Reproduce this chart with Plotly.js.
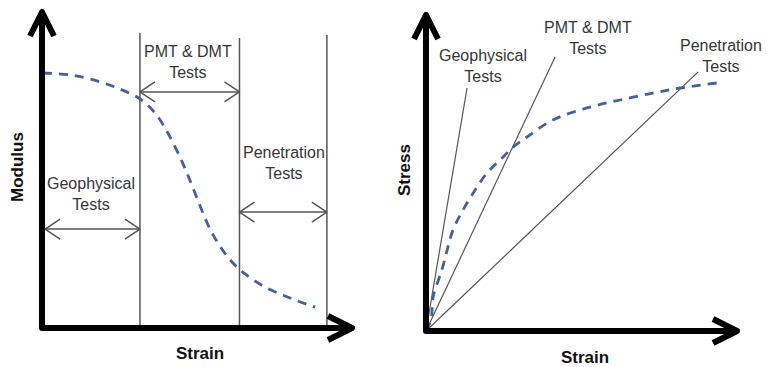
<!DOCTYPE html>
<html><head><meta charset="utf-8">
<script src="https://cdn.plot.ly/plotly-3.0.1.min.js"></script>
<style>
html,body{margin:0;padding:0;background:#fff}
#chart{width:766px;height:367px}
.js-line{stroke-linejoin:round}
</style>
</head><body><div id="chart"></div>
<script>
// ---- Left panel: Modulus vs Strain (relative units, 0-10) ----
const leftStrain  = [0.03,0.90,1.77,2.52,3.16,3.65,4.06,4.45,4.77,5.10,5.42,5.74,6.13,6.55,7.19,8.00,8.81];
const leftModulus = [8.07,8.01,7.82,7.56,7.25,6.80,6.17,5.41,4.68,3.86,3.13,2.59,2.09,1.71,1.30,0.95,0.66];
const zoneBounds  = [3.16, 6.37, 9.19];
const zoneTops    = [9.34, 9.18, 9.27];
const testLabels  = ['Geophysical<br>Tests', 'PMT & DMT<br>Tests', 'Penetration<br>Tests'];
const zoneLabelX  = [1.58, 4.71, 7.81];
const zoneLabelY  = [4.24, 8.42, 5.22];
const zoneArrowFrom = [0.10, 3.16, 6.37];
const zoneArrowTo   = [3.16, 6.37, 9.19];
const zoneArrowY    = [3.13, 7.47, 3.67];

// ---- Right panel: Stress vs Strain (relative units, 0-10) ----
const rightStrain = [0.00,0.16,0.23,0.51,0.68,0.87,1.19,1.58,1.96,2.38,2.80,3.25,4.08,5.18,6.24,7.30,8.17,9.36];
const rightStress = [0.00,0.35,1.08,1.93,2.56,3.20,3.83,4.46,5.00,5.41,5.82,6.14,6.68,7.06,7.31,7.53,7.69,7.85];
const secantEndX  = [1.32, 4.15, 8.75];
const secantEndY  = [7.69, 8.67, 8.20];
const secantLabelX = [1.83, 5.21, 9.49];
const secantLabelY = [8.39, 9.27, 8.70];

const axisLabels = {left: ['Strain', 'Modulus'], right: ['Strain', 'Stress']};
const axisMax = 10;

// ---- geometry / style ----
const W = 766, H = 367;
const XR = [-0.6, 10.4], YR = [-0.6, 10.3];
const panels = {
  left:  {ox: 42,  oy: 328, kx: 31.0, ky: 31.6, xa: 'x',  ya: 'y'},
  right: {ox: 426, oy: 331, kx: 31.1, ky: 31.6, xa: 'x2', ya: 'y2'}
};
function dom(p) {
  return {
    x: [(p.ox + XR[0]*p.kx)/W, (p.ox + XR[1]*p.kx)/W],
    y: [1 - (p.oy - YR[0]*p.ky)/H, 1 - (p.oy - YR[1]*p.ky)/H]
  };
}
const TXT = '#363636', THIN = '#555555', DASH = '#46609e';
const traces = [];
function line(p, xs, ys, color, width, dash) {
  traces.push({x: xs, y: ys, xaxis: p.xa, yaxis: p.ya, mode: 'lines', hoverinfo: 'skip',
    line: {color: color, width: width, dash: dash || 'solid'}});
}
// chevron arrowhead at tip (xt,yt) pointing in direction (dx,dy) (unit, pixel space, y up)
function chevron(p, xt, yt, dx, dy, back, spread) {
  const nx = -dy, ny = dx;
  const bx = xt - dx*back/p.kx, by = yt - dy*back/p.ky;
  return {
    x: [bx + nx*spread/p.kx, xt, bx - nx*spread/p.kx],
    y: [by + ny*spread/p.ky, yt, by - ny*spread/p.ky]
  };
}

const L = panels.left, R = panels.right;
// left: zone boundaries
zoneBounds.forEach((b, i) => line(L, [b, b], [0, zoneTops[i]], THIN, 1.5));
// left: double arrows
zoneArrowY.forEach((y, i) => {
  const a = zoneArrowFrom[i], b = zoneArrowTo[i];
  line(L, [a, b], [y, y], THIN, 1.5);
  const c1 = chevron(L, a, y, -1, 0, 15, 10), c2 = chevron(L, b, y, 1, 0, 15, 10);
  line(L, c1.x, c1.y, THIN, 1.5);
  line(L, c2.x, c2.y, THIN, 1.5);
});
// left: modulus curve
traces.push({x: leftStrain, y: leftModulus, xaxis: 'x', yaxis: 'y', mode: 'lines', hoverinfo: 'skip',
  line: {color: DASH, width: 2.8, dash: '9px,7px', shape: 'spline', smoothing: 1}});

// right: secant lines
secantEndX.forEach((x, i) => line(R, [0, x], [0, secantEndY[i]], THIN, 1.2));
// right: stress-strain curve
traces.push({x: rightStrain, y: rightStress, xaxis: 'x2', yaxis: 'y2', mode: 'lines', hoverinfo: 'skip',
  line: {color: DASH, width: 2.8, dash: '9px,7px', shape: 'spline', smoothing: 1}});

// thick axes with arrowheads
[L, R].forEach(p => {
  line(p, [0, 0, axisMax], [axisMax, 0, 0], '#000', 6);
  const cu = chevron(p, 0, axisMax, 0, 1, 24, 12);
  const cr = chevron(p, axisMax, 0, 1, 0, 24, 12);
  line(p, cu.x, cu.y, '#000', 6);
  line(p, cr.x, cr.y, '#000', 6);
});

const font = {family: '"Liberation Sans", Arial, sans-serif', size: 16, color: TXT};
const bold = {family: '"Liberation Sans", Arial, sans-serif', size: 17, color: '#111', weight: 'bold'};
const annotations = [];
testLabels.forEach((t, i) => {
  annotations.push({text: t, x: zoneLabelX[i], y: zoneLabelY[i], xref: 'x', yref: 'y', showarrow: false, font: font});
  annotations.push({text: t, x: secantLabelX[i], y: secantLabelY[i], xref: 'x2', yref: 'y2', showarrow: false, font: font});
});
const axLab = (t, px, py, ang) => ({text: '<b>' + t + '</b>', x: px/W, y: 1 - py/H, xref: 'paper', yref: 'paper',
  xanchor: 'center', yanchor: 'middle', showarrow: false, font: bold, textangle: ang || 0});
annotations.push(axLab(axisLabels.left[0], 200, 353));
annotations.push(axLab(axisLabels.left[1], 18, 167, -90));
annotations.push(axLab(axisLabels.right[0], 585, 357));
annotations.push(axLab(axisLabels.right[1], 405, 170, -90));

const dl = dom(L), dr = dom(R);
const ax = (d, r) => ({domain: d, range: r, visible: false, fixedrange: true});
const layout = {
  width: W, height: H, margin: {l: 0, r: 0, t: 0, b: 0},
  paper_bgcolor: '#fff', plot_bgcolor: 'rgba(0,0,0,0)', showlegend: false,
  xaxis: ax(dl.x, XR), yaxis: ax(dl.y, YR),
  xaxis2: ax(dr.x, XR), yaxis2: ax(dr.y, YR),
  annotations: annotations
};
Plotly.newPlot('chart', traces, layout, {staticPlot: true, displayModeBar: false});
</script>
</body></html>
